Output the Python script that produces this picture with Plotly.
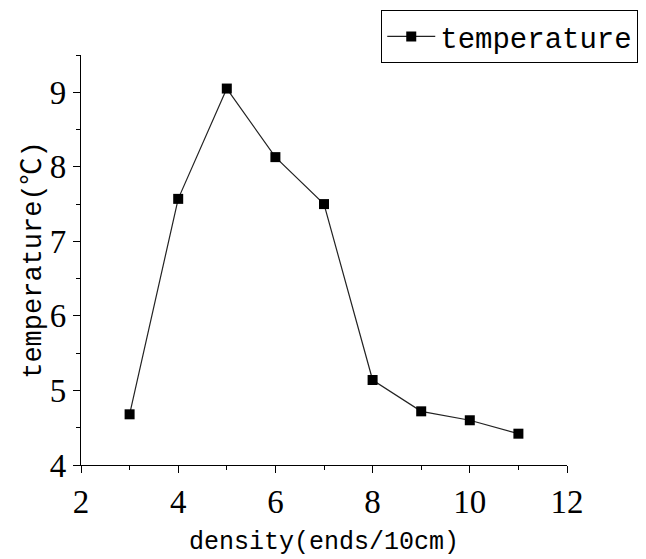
import plotly.graph_objects as go

density = [3, 4, 5, 6, 7, 8, 9, 10, 11]
temperature = [4.68, 7.57, 9.05, 8.13, 7.50, 5.14, 4.72, 4.60, 4.42]
series_name = "temperature"
x_title = "density(ends/10cm)"
y_title = "temperature(℃)"

mono = "Liberation Mono, Noto Sans CJK SC, monospace"
serif = "Liberation Serif, serif"

fig = go.Figure()
fig.add_trace(go.Scatter(
    x=density, y=temperature, mode="lines+markers", name=series_name,
    line=dict(color="#222222", width=1.2),
    marker=dict(symbol="square", size=10, color="black"),
))

fig.update_layout(
    width=646, height=559,
    margin=dict(l=81, r=79, t=55, b=94, autoexpand=False),
    paper_bgcolor="white", plot_bgcolor="white",
    showlegend=True,
    legend=dict(
        xref="container", yref="container",
        x=0.988, y=0.982, xanchor="right", yanchor="top",
        bordercolor="black", borderwidth=1, bgcolor="white",
        font=dict(family=mono, size=29, color="black"),
        itemwidth=48, tracegroupgap=0,
    ),
)
fig.update_xaxes(
    range=[2, 12], dtick=2, tick0=2,
    showline=True, linecolor="black", linewidth=1.3,
    ticks="outside", ticklen=7, tickwidth=1.3, tickcolor="black",
    minor=dict(ticks="outside", dtick=1, ticklen=4, tickwidth=1.3, tickcolor="black"),
    showgrid=False, zeroline=False,
    tickfont=dict(family=serif, size=33, color="black"),
    title=dict(text=x_title, font=dict(family=mono, size=25, color="black"), standoff=12),
)
fig.update_yaxes(
    range=[4, 9.5], dtick=1, tick0=4,
    showline=True, linecolor="black", linewidth=1.3,
    ticks="outside", ticklen=7, tickwidth=1.3, tickcolor="black",
    minor=dict(ticks="outside", dtick=0.5, ticklen=4, tickwidth=1.3, tickcolor="black"),
    showgrid=False, zeroline=False,
    tickfont=dict(family=serif, size=33, color="black"),
    title=dict(text=y_title, font=dict(family=mono, size=27, color="black"), standoff=0),
)

fig.write_html("out.html")
